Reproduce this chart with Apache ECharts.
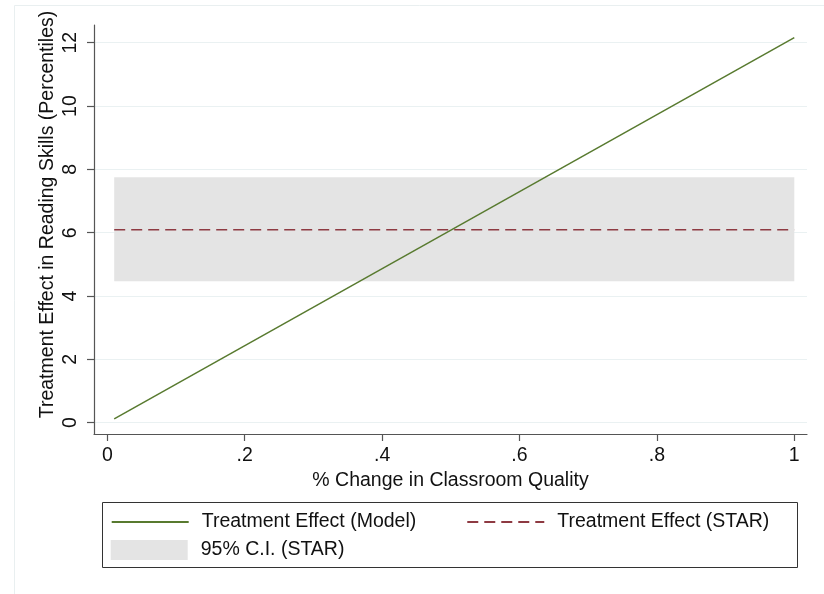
<!DOCTYPE html>
<html>
<head>
<meta charset="utf-8">
<script src="https://cdn.jsdelivr.net/npm/echarts@6/dist/echarts.min.js"></script>
<style>
html,body{margin:0;padding:0;background:#fff;}
#chart{width:824px;height:594px;}
</style>
</head>
<body>
<div id="chart"></div>
<script>
// ---- data ----
const xTicks = [0, 0.2, 0.4, 0.6, 0.8, 1];
const yTicks = [0, 2, 4, 6, 8, 10, 12];
const modelX = [0.01, 1];
const modelY = [0.12, 12.16];
const starX = [0.01, 1];
const starY = [6.09, 6.09];
const ciX = [0.01, 1];
const ciLower = [4.47, 4.47];
const ciUpper = [7.75, 7.75];
const xTitle = '% Change in Classroom Quality';
const yTitle = 'Treatment Effect in Reading Skills (Percentiles)';
const nameModel = 'Treatment Effect (Model)';
const nameStar = 'Treatment Effect (STAR)';
const nameCI = '95% C.I. (STAR)';

const FONT = '"Liberation Sans", Arial, sans-serif';
const zip = (a, b) => a.map((v, i) => [v, b[i]]);
const fmtX = v => (v === 0 ? '0' : v === 1 ? '1' : String(+v.toFixed(2)).replace(/^0/, ''));

const chart = echarts.init(document.getElementById('chart'), null, {renderer: 'canvas'});
const option = {
  animation: false,
  backgroundColor: '#ffffff',
  textStyle: {fontFamily: FONT},
  graphic: [
    {type: 'rect', silent: true, z: -10,
     shape: {x: 14.5, y: 5.5, width: 830, height: 600},
     style: {fill: null, stroke: '#e9eff0', lineWidth: 1}},
    {type: 'rect', silent: true, z: 10,
     shape: {x: 102.5, y: 502.5, width: 695, height: 65},
     style: {fill: null, stroke: '#333333', lineWidth: 1}}
  ],
  grid: {left: 94, right: 17, top: 25, bottom: 160, containLabel: false},
  xAxis: {
    type: 'value', min: -0.0194, max: 1.0185,
    name: xTitle, nameLocation: 'middle', nameGap: 37, nameMoveOverlap: false,
    nameTextStyle: {fontSize: 19.5, color: '#111', fontFamily: FONT},
    axisLine: {show: true, onZero: false, lineStyle: {color: '#555', width: 1.2}},
    axisTick: {show: true, customValues: xTicks, length: 7, lineStyle: {color: '#555', width: 1.2}},
    axisLabel: {customValues: xTicks, formatter: fmtX, margin: 12, fontSize: 19.5, color: '#111', fontFamily: FONT},
    splitLine: {show: false}
  },
  yAxis: {
    type: 'value', min: -0.357, max: 12.56,
    name: yTitle, nameLocation: 'middle', nameGap: 36, nameRotate: 90, nameMoveOverlap: false,
    nameTextStyle: {fontSize: 19.5, color: '#111', fontFamily: FONT, padding: [0, 0, 0, 30]},
    axisLine: {show: true, onZero: false, lineStyle: {color: '#555', width: 1.2}},
    axisTick: {show: true, customValues: yTicks, length: 7, lineStyle: {color: '#555', width: 1.2}},
    axisLabel: {customValues: yTicks, rotate: 90, margin: 13, fontSize: 19.5, color: '#111', fontFamily: FONT},
    splitLine: {show: false}
  },
  legend: [
    {
      data: [
        {name: nameModel, itemStyle: {opacity: 0}},
        {name: nameStar, itemStyle: {opacity: 0}}
      ],
      left: 110.7, top: 512, padding: 0, itemGap: 50,
      itemWidth: 77, itemHeight: 20,
      textStyle: {fontSize: 19.5, color: '#111', fontFamily: FONT, padding: [0, 0, 0, 8]},
      selectedMode: false
    },
    {
      data: [{name: nameCI, icon: 'rect', itemStyle: {color: '#e4e4e4', opacity: 1, borderWidth: 0}}],
      left: 110.7, top: 540, padding: 0,
      itemWidth: 77, itemHeight: 20,
      textStyle: {fontSize: 19.5, color: '#111', fontFamily: FONT, padding: [0, 0, 0, 8]},
      selectedMode: false
    }
  ],
  series: [
    {
      name: 'gridlines', type: 'line', data: [], silent: true, z: 0,
      markLine: {
        silent: true, z: 0, symbol: ['none', 'none'], animation: false,
        label: {show: false},
        lineStyle: {color: '#eaf1f2', width: 1.2, type: 'solid'},
        emphasis: {disabled: true},
        data: yTicks.map(v => ({yAxis: v}))
      }
    },
    {
      name: nameCI, type: 'line', data: [], silent: true, z: 1,
      symbol: 'none', lineStyle: {width: 0, opacity: 0},
      itemStyle: {color: '#e4e4e4'},
      markArea: {
        silent: true, z: 1,
        itemStyle: {color: '#e4e4e4', opacity: 1},
        emphasis: {disabled: true},
        data: [[{coord: [ciX[0], ciLower[0]]}, {coord: [ciX[ciX.length - 1], ciUpper[ciUpper.length - 1]]}]]
      }
    },
    {
      name: nameStar, type: 'line', data: zip(starX, starY), z: 3,
      symbol: 'none', showSymbol: false, silent: true,
      lineStyle: {color: '#8e3a42', width: 1.5, type: [11, 6]},
      itemStyle: {color: '#8e3a42'}
    },
    {
      name: nameModel, type: 'line', data: zip(modelX, modelY), z: 4,
      symbol: 'none', showSymbol: false, silent: true,
      lineStyle: {color: '#587a2f', width: 1.5},
      itemStyle: {color: '#587a2f'}
    }
  ]
};
chart.setOption(option);
</script>
</body>
</html>
